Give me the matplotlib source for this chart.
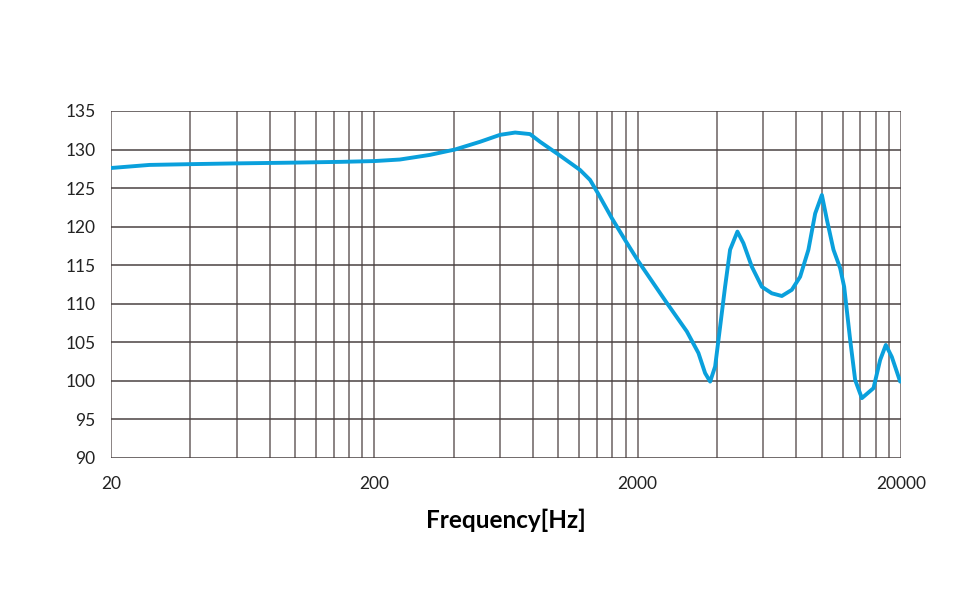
#!/usr/bin/env python3
# -*- coding: utf-8 -*-
# frequency response plot
import numpy as np
import matplotlib
matplotlib.use('Agg')
import matplotlib.pyplot as plt
import matplotlib.ticker as mtick

# values
freq = [20, 28, 40, 60, 100, 150, 200, 250, 325, 405, 504, 600, 685, 780, 852,
        1015, 1208, 1319, 1414, 1595, 1807, 2012, 2580, 3074, 3402, 3606, 3768,
        3936, 4111, 4294, 4486, 4783, 5040, 5426, 5920, 6461, 7053, 7697, 8278,
        8898, 9440, 10010, 10458, 11078, 11746, 12163, 12820, 13392, 14198, 15720,
        16660, 17508, 18450, 19843]
spl = [127.6, 128.0, 128.1, 128.2, 128.3, 128.4, 128.5, 128.7, 129.3, 130.0, 131.0,
       131.9, 132.2, 132.0, 131.0, 129.2, 127.35, 126.05, 124.3, 121.1, 118.05, 115.5,
       110.1, 106.4, 103.6, 101.0, 99.9, 101.85, 107.0, 112.2, 117.0, 119.35, 117.85,
       114.8, 112.2, 111.35, 111.0, 111.8, 113.5, 117.0, 121.7, 124.1, 120.9, 117.0,
       114.6, 112.2, 105.3, 100.1, 97.75, 99.05, 102.7, 104.65, 103.1, 99.9]

x_ticks = [20, 200, 2000, 20000]
y_ticks = list(range(90, 140, 5))


def main():
    plt.rcParams['font.family'] = ['Lato', 'DejaVu Sans']
    fig = plt.figure(figsize=(9.76, 6.13), dpi=100)
    ax = fig.add_axes([0.1137, 0.253, 0.8095, 0.566])

    ax.plot(freq, spl, color='#0aa0dc', linewidth=2.8, solid_joinstyle='round',
            solid_capstyle='round', zorder=3)

    ax.set_xscale('log')
    ax.set_xlim(20, 20000)
    ax.set_ylim(90, 135)

    # vertical grid at 20, 40, 60 ... per decade
    grid_x = [20 * 10 ** d * k for d in range(3) for k in range(1, 11)]
    ax.xaxis.set_major_locator(mtick.FixedLocator(x_ticks))
    ax.xaxis.set_major_formatter(mtick.FixedFormatter([str(t) for t in x_ticks]))
    ax.xaxis.set_minor_locator(mtick.FixedLocator(grid_x))
    ax.xaxis.set_minor_formatter(mtick.NullFormatter())
    ax.set_yticks(y_ticks)

    ax.grid(True, which='both', axis='x', color='#6b6262', linewidth=1.1)
    ax.grid(True, which='major', axis='y', color='#4a4242', linewidth=1.1)
    ax.set_axisbelow(True)
    for s in ax.spines.values():
        s.set_visible(False)

    ax.tick_params(which='both', length=0, labelsize=12.5, colors='#222222')
    ax.tick_params(axis='x', pad=13)
    ax.tick_params(axis='y', pad=11)
    ax.set_xlabel('Frequency[Hz]', fontsize=17.5, fontweight='bold', labelpad=12)

    fig.savefig('out.png', dpi=100)


if __name__ == "__main__":
    main()
